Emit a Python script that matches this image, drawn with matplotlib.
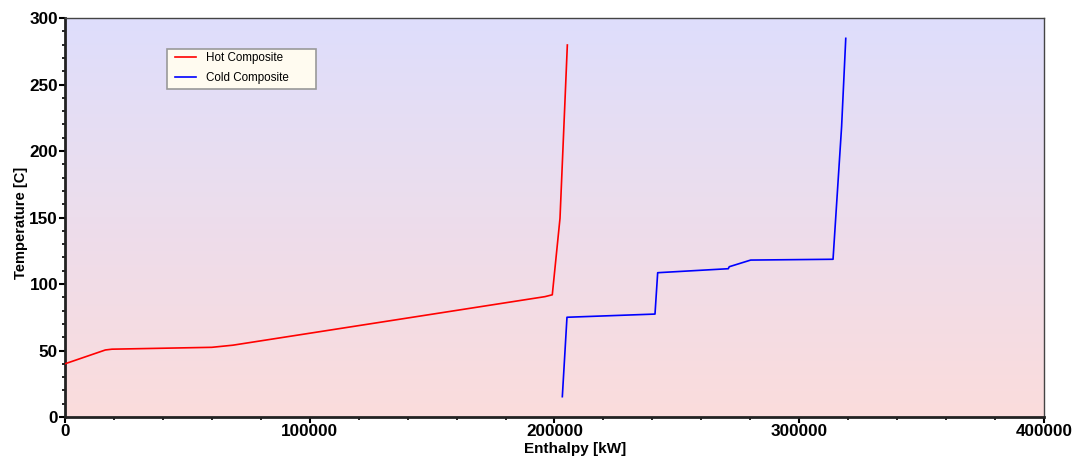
import numpy as np
import matplotlib.pyplot as plt
from matplotlib.colors import LinearSegmentedColormap
from matplotlib.ticker import MultipleLocator
from matplotlib.patches import Rectangle

# composite curves
hot_h = [0, 16500, 19200, 60000, 68600, 196100, 199100, 202250, 205250]
hot_t = [40, 50.4, 51, 52.4, 54, 90.5, 91.9, 149.4, 279.7]

cold_h = [203200, 205100, 241060, 242160, 271000, 271400, 280150, 313800, 317300, 319000]
cold_t = [15.3, 75, 77.4, 108.5, 111.5, 113, 118, 118.6, 218.3, 284.7]

plt.rcParams['font.family'] = ['Liberation Sans', 'DejaVu Sans']

fig = plt.figure(figsize=(10.72, 4.57), dpi=100)
ax = fig.add_axes([0.0606, 0.0875, 0.9133, 0.8731])

# background gradient, lavender on top to pink at bottom
cmap = LinearSegmentedColormap.from_list('bg', ['#fbdcdc', '#dedefc'])
grad = np.linspace(0, 1, 256).reshape(-1, 1)
ax.imshow(grad, cmap=cmap, aspect='auto', origin='lower',
          extent=[0, 1, 0, 1], transform=ax.transAxes, zorder=0)

ax.plot(hot_h, hot_t, color='#ff0000', lw=1.2, label='Hot Composite', zorder=3)
ax.plot(cold_h, cold_t, color='#0000ff', lw=1.2, label='Cold Composite', zorder=3)

ax.set_xlim(0, 400000)
ax.set_ylim(0, 300)
ax.xaxis.set_major_locator(MultipleLocator(100000))
ax.xaxis.set_minor_locator(MultipleLocator(20000))
ax.yaxis.set_major_locator(MultipleLocator(50))
ax.yaxis.set_minor_locator(MultipleLocator(10))
ax.tick_params(which='major', length=4, width=1.5, labelsize=12.3, pad=1)
ax.tick_params(which='minor', length=2.5, width=1.2)
for lab in ax.get_xticklabels() + ax.get_yticklabels():
    lab.set_fontweight('bold')

for s in ['left', 'bottom']:
    ax.spines[s].set_linewidth(2)
    ax.spines[s].set_color('#222222')
for s in ['top', 'right']:
    ax.spines[s].set_linewidth(1)
    ax.spines[s].set_color('#444444')

ax.set_xlabel('Enthalpy [kW]', fontsize=11, fontweight='bold')
ax.xaxis.set_label_coords(0.521, -0.062)
ax.set_ylabel('Temperature [C]', fontsize=10.5, fontweight='bold')
ax.yaxis.set_label_coords(-0.038, 0.486)

# legend box drawn by hand so the padding matches
ax.add_patch(Rectangle((0.1042, 0.822), 0.1522, 0.1003, transform=ax.transAxes,
                       facecolor='#fffbf0', edgecolor='#999999', lw=1.2, zorder=4))
leg = ax.legend(loc='upper left', bbox_to_anchor=(0.1124, 0.914), fontsize=8.4,
                frameon=False, handlelength=1.8, handletextpad=0.85,
                borderpad=0, labelspacing=0.7, borderaxespad=0)
leg.set_zorder(5)

fig.savefig('out.png', dpi=100)
